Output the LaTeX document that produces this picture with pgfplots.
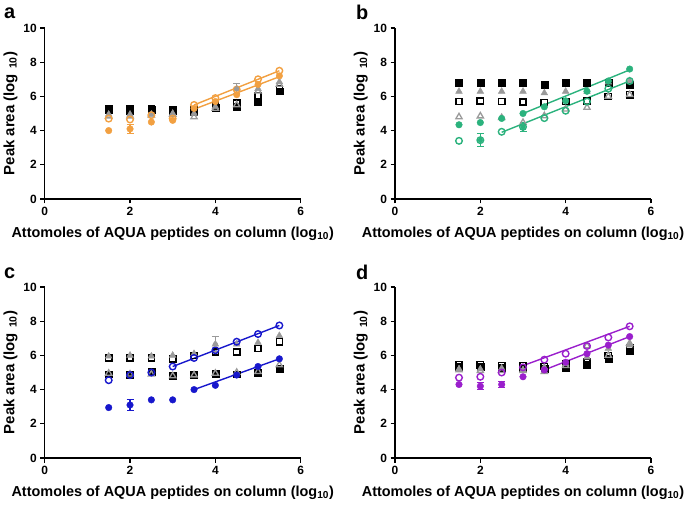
\documentclass[border=0pt]{standalone}
\usepackage{fontspec}
\setmainfont{Liberation Sans}
\usepackage{pgfplots}
\usepackage{pgfplotstable}
\pgfplotsset{compat=1.18}
\definecolor{cgray}{HTML}{9A9A9A}
\definecolor{corange}{HTML}{F2A041}
\definecolor{cgreen}{HTML}{2BB27D}
\definecolor{cblue}{HTML}{1717CC}
\definecolor{cpurple}{HTML}{9A1FCC}

% panel a
\pgfplotstableread{
x   bfs  bos  gft  got  cf   co
1.5 5.20 5.30 4.95 4.85 4.00 4.70
2.0 5.15 5.25 4.95 4.85 4.10 4.65
2.5 5.20 5.30 4.95 4.90 4.50 4.90
3.0 5.15 5.20 5.00 4.95 4.60 4.70
3.5 5.10 5.20 5.00 4.80 5.30 5.50
4.0 5.35 5.50 5.40 5.30 5.70 5.90
4.5 5.40 5.60 6.45 5.50 6.10 6.40
5.0 5.70 6.05 6.45 6.30 6.70 7.00
5.5 6.30 6.45 6.85 6.70 7.20 7.50
}\tabA
% panel b
\pgfplotstableread{
x   bfs  bos  gft  got  cf   co
1.5 6.78 5.70 6.29 4.80 4.34 3.40
2.0 6.78 5.73 6.29 4.85 4.47 3.44
2.5 6.78 5.70 6.29 4.75 4.71 3.93
3.0 6.78 5.67 6.29 4.47 5.00 4.22
3.5 6.70 5.64 6.20 4.86 5.39 4.73
4.0 6.78 5.70 6.29 5.25 5.74 5.16
4.5 6.78 5.73 6.29 5.35 6.30 5.70
5.0 6.80 6.00 6.83 6.00 6.90 6.45
5.5 6.70 6.10 6.90 6.10 7.60 6.90
}\tabB
% panel c
\pgfplotstableread{
x   bfs  bos  gft  got  cf   co
1.5 4.90 5.85 5.95 4.95 2.95 4.55
2.0 4.85 5.85 6.00 4.90 3.10 4.85
2.5 5.05 5.85 5.95 4.90 3.40 5.00
3.0 4.80 5.80 6.00 4.80 3.40 5.35
3.5 4.85 6.00 6.10 4.85 4.00 5.85
4.0 4.95 6.20 6.65 4.95 4.25 6.30
4.5 4.90 6.20 6.65 5.00 4.85 6.80
5.0 5.00 6.40 6.75 5.05 5.35 7.25
5.5 5.20 6.80 7.15 5.45 5.80 7.75
}\tabC
% panel d
\pgfplotstableread{
x   bfs  bos  gft  got  cf   co
1.5 5.35 5.45 5.20 5.15 4.30 4.70
2.0 5.35 5.45 5.20 5.10 4.20 4.75
2.5 5.30 5.40 5.25 5.10 4.30 5.00
3.0 5.30 5.40 5.15 5.10 4.75 5.30
3.5 5.20 5.35 5.30 5.05 5.15 5.75
4.0 5.30 5.50 5.50 5.40 5.60 6.10
4.5 5.45 5.60 5.90 6.55 6.10 6.55
5.0 5.80 6.00 6.40 6.00 6.60 7.05
5.5 6.25 6.45 6.60 6.70 7.10 7.70
}\tabD

\pgfplotsset{
  panel/.style={
    scale only axis, width=256bp, height=171bp,
    anchor=south west,
    xmin=0, xmax=6, ymin=0, ymax=10,
    axis x line*=bottom, axis y line*=left,
    axis line style={line width=1.4bp, -},
    xtick={0,2,4,6}, ytick={0,2,4,6,8,10},
    minor tick num=0,
    tick align=outside, major tick length=4.5bp,
    every tick/.style={line width=1.2bp, black},
    tick label style={font=\fontsize{12}{14}\selectfont\bfseries},
    /pgf/number format/assume math mode=true,
    xlabel={Attomoles of AQUA peptides on column (log\textsubscript{10})},
    ylabel={Peak area (log\,\,\textsubscript{10})},
    xlabel style={font=\fontsize{14.5}{16}\selectfont\bfseries, yshift=-5bp},
    ylabel style={font=\fontsize{15}{17}\selectfont\bfseries, yshift=-1bp},
    clip=false,
  },
  bfs/.style={only marks, mark=square*, black, mark size=3.4bp},
  bos/.style={only marks, mark=square, black, mark size=3.1bp, line width=1.5bp},
  gft/.style={only marks, mark=triangle*, cgray, mark size=3.9bp},
  got/.style={only marks, mark=triangle, cgray, mark size=3.6bp, line width=1.3bp},
  cf/.style={only marks, mark=*, #1, mark size=3.3bp},
  co/.style={only marks, mark=o, #1, mark size=3.3bp, line width=1.4bp},
  fit/.style={no marks, #1, line width=1.4bp},
  eb/.style={only marks, mark=none, #1, line width=1.1bp, error bars/.cd, y dir=both, y explicit, error bar style={line width=1.1bp}, error mark options={rotate=90, mark size=3.5bp, line width=1.1bp}},
}

\begin{document}
\begin{tikzpicture}
\useasboundingbox (0,0) rectangle (685bp,505bp);

% ---- panel a
\begin{axis}[panel, at={(44.7bp,306bp)}]
\addplot[bfs] table[x=x,y=bfs]{\tabA};
\addplot[bos] table[x=x,y=bos]{\tabA};
\addplot[gft] table[x=x,y=gft]{\tabA};
\addplot[got] table[x=x,y=got]{\tabA};
\addplot[fit=corange] coordinates {(3.5,5.25) (5.5,7.15)};
\addplot[fit=corange] coordinates {(3.5,5.5) (5.5,7.5)};
\addplot[cf=corange] table[x=x,y=cf]{\tabA};
\addplot[co=corange] table[x=x,y=co]{\tabA};
\addplot[eb=cgray] coordinates {(4.5,6.45) +- (0,0.3)};
\addplot[eb=corange] coordinates {(2,4.1) +- (0,0.25)};
\end{axis}

% ---- panel b
\begin{axis}[panel, at={(395bp,306bp)}]
\addplot[bfs] table[x=x,y=bfs]{\tabB};
\addplot[bos] table[x=x,y=bos]{\tabB};
\addplot[gft] table[x=x,y=gft]{\tabB};
\addplot[got] table[x=x,y=got]{\tabB};
\addplot[fit=cgreen] coordinates {(3.0,5.0) (5.5,7.55)};
\addplot[fit=cgreen] coordinates {(2.5,3.9) (5.5,6.9)};
\addplot[cf=cgreen] table[x=x,y=cf]{\tabB};
\addplot[co=cgreen] table[x=x,y=co]{\tabB};
\addplot[eb=cgreen] coordinates {(2,3.44) +- (0,0.38) (3,4.22) +- (0,0.25)};
\end{axis}

% ---- panel c
\begin{axis}[panel, at={(44.7bp,47bp)}]
\addplot[bfs] table[x=x,y=bfs]{\tabC};
\addplot[bos] table[x=x,y=bos]{\tabC};
\addplot[gft] table[x=x,y=gft]{\tabC};
\addplot[got] table[x=x,y=got]{\tabC};
\addplot[fit=cblue] coordinates {(3.0,5.35) (5.5,7.75)};
\addplot[fit=cblue] coordinates {(3.5,4.0) (5.5,5.8)};
\addplot[cf=cblue] table[x=x,y=cf]{\tabC};
\addplot[co=cblue] table[x=x,y=co]{\tabC};
\addplot[eb=cgray] coordinates {(4,6.65) +- (0,0.45)};
\addplot[eb=cblue] coordinates {(2,3.1) +- (0,0.3)};
\end{axis}

% ---- panel d
\begin{axis}[panel, at={(395bp,47bp)}]
\addplot[bfs] table[x=x,y=bfs]{\tabD};
\addplot[bos] table[x=x,y=bos]{\tabD};
\addplot[gft] table[x=x,y=gft]{\tabD};
\addplot[got] table[x=x,y=got]{\tabD};
\addplot[fit=cpurple] coordinates {(3.0,5.4) (5.5,7.7)};
\addplot[fit=cpurple] coordinates {(3.5,5.15) (5.5,7.1)};
\addplot[cf=cpurple] table[x=x,y=cf]{\tabD};
\addplot[co=cpurple] table[x=x,y=co]{\tabD};
\addplot[eb=cpurple] coordinates {(2,4.2) +- (0,0.2) (2.5,4.3) +- (0,0.2)};
\end{axis}

% panel letters
\node[anchor=north west, inner sep=0pt, font=\fontsize{20}{22}\selectfont\bfseries] at (4bp,497bp) {a};
\node[anchor=north west, inner sep=0pt, font=\fontsize{20}{22}\selectfont\bfseries] at (356bp,500bp) {b};
\node[anchor=north west, inner sep=0pt, font=\fontsize{20}{22}\selectfont\bfseries] at (4bp,237bp) {c};
\node[anchor=north west, inner sep=0pt, font=\fontsize{20}{22}\selectfont\bfseries] at (356bp,240bp) {d};
\end{tikzpicture}
\end{document}
